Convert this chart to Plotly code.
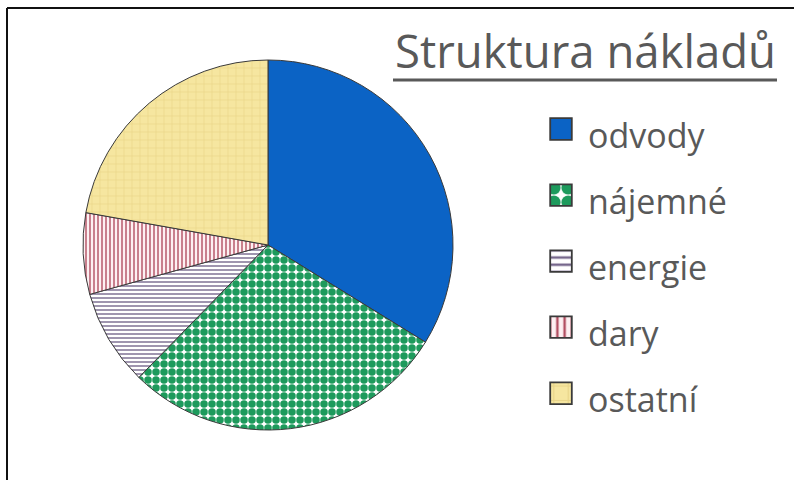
import plotly.graph_objects as go

categories = ["odvody", "nájemné", "energie", "dary", "ostatní"]
values = [33.8, 28.5, 8.4, 7.1, 22.2]
chart_title = "Struktura nákladů"

W, H = 794, 480

fill_colors = ["#0b63c5", "#ffffff", "#ffffff", "#fdf0f2", "#f6e6a0"]
pattern_shapes = ["", ".", "-", "|", "+"]
pattern_fg = ["#0b63c5", "#1d9a5c", "#76678c", "#b24f62", "#e8d488"]
pattern_size = [8, 8, 4, 4, 8]
pattern_solid = [0.3, 0.7, 0.35, 0.35, 0.15]

labels = [f"<span style='font-size:34px'>{c}</span>" for c in categories]

fig = go.Figure()
fig.add_trace(go.Pie(
    labels=labels,
    values=values,
    sort=False,
    direction="clockwise",
    rotation=0,
    textinfo="none",
    hoverinfo="label+percent",
    marker=dict(
        colors=fill_colors,
        line=dict(color="#3a3a3a", width=1),
        pattern=dict(shape=pattern_shapes, fgcolor=pattern_fg,
                     bgcolor=fill_colors, size=pattern_size,
                     solidity=pattern_solid, fillmode="replace"),
    ),
    domain=dict(x=[(268 - 185) / W, (268 + 185) / W],
                y=[1 - 430 / H, 1 - 60 / H]),
    showlegend=True,
))

fig.add_annotation(
    text=chart_title, xref="paper", yref="paper",
    x=393 / W, y=1 - 17 / H, xanchor="left", yanchor="top",
    showarrow=False, font=dict(family="Open Sans", size=45.5, color="#595959"),
)

fig.update_layout(
    width=W, height=H,
    margin=dict(l=0, r=0, t=0, b=0),
    paper_bgcolor="white",
    plot_bgcolor="white",
    font=dict(family="Open Sans", color="#595959"),
    legend=dict(
        x=548 / W, y=1 - 91 / H, xanchor="left", yanchor="top",
        font=dict(family="Open Sans", size=48.5, color="#595959"),
        bgcolor="rgba(0,0,0,0)", itemclick=False,
    ),
    shapes=[
        dict(type="line", xref="paper", yref="paper", x0=7 / W, x1=1.02,
             y0=1 - 8 / H, y1=1 - 8 / H, line=dict(color="#111111", width=2)),
        dict(type="line", xref="paper", yref="paper", x0=7 / W, x1=7 / W,
             y0=1 - 8 / H, y1=-0.02, line=dict(color="#111111", width=2)),
        dict(type="line", xref="paper", yref="paper", x0=393 / W, x1=777 / W,
             y0=1 - 80 / H, y1=1 - 80 / H, line=dict(color="#595959", width=3)),
    ],
)

post = """
document.body.style.margin = '0';
document.querySelectorAll('path.legendpie').forEach(function(p){
  var t = p.getAttribute('transform') || '';
  p.setAttribute('transform', t + ' translate(-7,0) scale(1.8)');
});
"""
fig.write_html("out.html", post_script=post, config={"displayModeBar": False})
